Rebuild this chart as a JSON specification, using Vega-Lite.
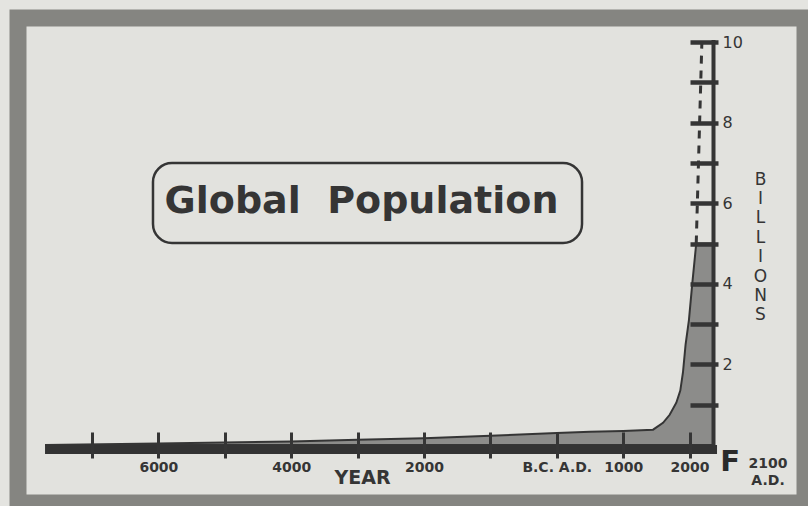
{
  "$schema": "https://vega.github.io/schema/vega-lite/v6.json",
  "autosize": {"type": "none"},
  "padding": {"left": 18, "top": 18, "right": 3, "bottom": 3},
  "width": 787,
  "height": 485,
  "background": "#e4e4e0",
  "config": {
    "view": {"fill": "#e2e2de", "stroke": "#858581", "strokeWidth": 17},
    "font": "DejaVu Sans"
  },
  "datasets": {
    "population": [
      {"year": -7707, "billions": 0.0},
      {"year": -6000, "billions": 0.04},
      {"year": -4000, "billions": 0.09},
      {"year": -3000, "billions": 0.13},
      {"year": -2000, "billions": 0.17},
      {"year": -1000, "billions": 0.23},
      {"year": 0, "billions": 0.3},
      {"year": 500, "billions": 0.33},
      {"year": 1000, "billions": 0.35},
      {"year": 1450, "billions": 0.38},
      {"year": 1600, "billions": 0.55},
      {"year": 1700, "billions": 0.75},
      {"year": 1800, "billions": 1.05},
      {"year": 1860, "billions": 1.35},
      {"year": 1900, "billions": 1.8},
      {"year": 1940, "billions": 2.5},
      {"year": 1990, "billions": 3.1},
      {"year": 2040, "billions": 4.0},
      {"year": 2100, "billions": 5.0},
      {"year": 2360, "billions": 5.0}
    ],
    "projection": [
      {"year": 2100, "billions": 5.0},
      {"year": 2185, "billions": 10.0}
    ],
    "one": [{}]
  },
  "layer": [
    {
      "data": {"name": "population"},
      "mark": {"type": "area", "fill": "#8c8c8a", "stroke": "#353535", "strokeWidth": 2},
      "encoding": {
        "x": {
          "field": "year", "type": "quantitative",
          "scale": {"domain": [-8114, 3738], "nice": false, "zero": false},
          "axis": {
            "orient": "bottom", "offset": -45, "zindex": 1,
            "values": [-7000, -6000, -5000, -4000, -3000, -2000, -1000, 0, 1000, 2000],
            "labelExpr": "datum.value == 0 ? 'B.C. A.D.' : ((datum.value > 0 || datum.value % 2000 == 0) ? format(abs(datum.value), 'd') : '')",
            "domain": false, "grid": false,
            "tickSize": -26, "tickWidth": 3, "tickColor": "#353535",
            "labelPadding": 28, "labelFontSize": 14, "labelFontWeight": "bold",
            "labelColor": "#353535", "labelOverlap": false, "labelFlush": false, "labelBaseline": "top",
            "title": "YEAR", "titleFontSize": 19, "titleFontWeight": "bold", "titleColor": "#353535",
            "titleX": 344, "titleY": 25, "titleAlign": "center", "titleBaseline": "alphabetic"
          }
        },
        "y": {
          "field": "billions", "type": "quantitative",
          "scale": {"domain": [-1.439, 10.596], "nice": false, "zero": false},
          "axis": {
            "orient": "right", "offset": -87, "zindex": 1,
            "values": [1, 2, 3, 4, 5, 6, 7, 8, 9, 10],
            "labelExpr": "datum.value % 2 == 0 ? datum.label : ''",
            "domain": false, "grid": false,
            "tickSize": -28, "tickWidth": 4.5, "tickColor": "#353535",
            "labelPadding": 32, "labelFontSize": 16, "labelColor": "#353535",
            "labelBaseline": "middle", "labelOverlap": false, "labelFlush": false,
            "title": ["B", "I", "L", "L", "I", "O", "N", "S"],
            "titleAngle": 0, "titleFontSize": 17, "titleFontWeight": "normal", "titleColor": "#353535",
            "titleLineHeight": 19.4, "titleX": 42, "titleY": 166,
            "titleAlign": "center", "titleBaseline": "alphabetic"
          }
        }
      }
    },
    {
      "data": {"name": "projection"},
      "mark": {"type": "line", "color": "#353535", "strokeWidth": 3, "strokeDash": [8, 7]},
      "encoding": {
        "x": {"field": "year", "type": "quantitative"},
        "y": {"field": "billions", "type": "quantitative"}
      }
    },
    {
      "data": {"name": "one"},
      "mark": {"type": "rule", "color": "#333333", "strokeWidth": 9},
      "encoding": {
        "x": {"datum": -7707, "type": "quantitative"},
        "x2": {"datum": 2413},
        "y": {"datum": -0.112, "type": "quantitative"}
      }
    },
    {
      "data": {"name": "one"},
      "mark": {"type": "rule", "color": "#353535", "strokeWidth": 4},
      "encoding": {
        "x": {"datum": 2360, "type": "quantitative"},
        "y": {"datum": 0, "type": "quantitative"},
        "y2": {"datum": 10.05}
      }
    },
    {
      "data": {"name": "one"},
      "mark": {"type": "rect", "filled": false, "stroke": "#353535", "strokeWidth": 2.5, "cornerRadius": 19},
      "encoding": {
        "x": {"datum": -6081, "type": "quantitative"},
        "x2": {"datum": 380},
        "y": {"datum": 6.998, "type": "quantitative"},
        "y2": {"datum": 5.013}
      }
    },
    {
      "data": {"name": "one"},
      "mark": {"type": "text", "text": "Global\u00a0\u00a0Population", "fontSize": 38, "fontWeight": "bold", "color": "#353535", "align": "center", "baseline": "alphabetic"},
      "encoding": {
        "x": {"datum": -2941, "type": "quantitative"},
        "y": {"datum": 5.757, "type": "quantitative"}
      }
    },
    {
      "data": {"name": "one"},
      "mark": {"type": "text", "text": "2100\nA.D.", "lineBreak": "\n", "lineHeight": 17, "fontSize": 14, "fontWeight": "bold", "color": "#353535", "align": "center", "baseline": "alphabetic"},
      "encoding": {
        "x": {"datum": 3181, "type": "quantitative"},
        "y": {"datum": -0.57, "type": "quantitative"}
      }
    },
    {
      "data": {"name": "one"},
      "mark": {"type": "text", "text": "F", "fontSize": 29, "fontWeight": "bold", "color": "#2a2a2a", "align": "center", "baseline": "alphabetic"},
      "encoding": {
        "x": {"datum": 2610, "type": "quantitative"},
        "y": {"datum": -0.645, "type": "quantitative"}
      }
    }
  ]
}
